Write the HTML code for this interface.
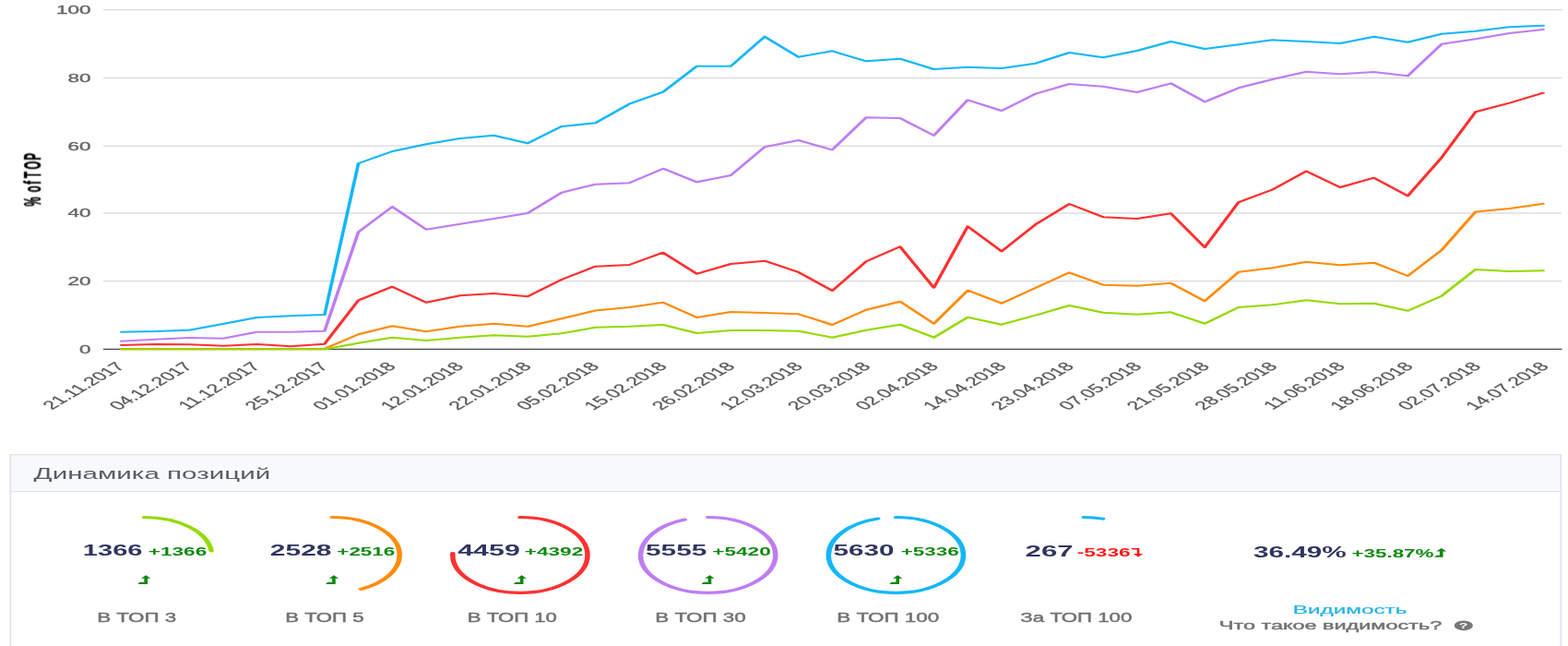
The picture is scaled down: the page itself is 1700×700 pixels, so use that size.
<!DOCTYPE html>
<html lang="ru">
<head>
<meta charset="utf-8">
<title>Динамика позиций</title>
<style>
html,body{margin:0;padding:0;background:#fff;}
body{width:1700px;height:700px;overflow:hidden;font-family:"Liberation Sans",sans-serif;}
svg{display:block;font-family:"Liberation Sans",sans-serif;}
text{white-space:pre;paint-order:stroke;stroke-linejoin:round;}
</style>
</head>
<body>
<svg width="1700" height="700" viewBox="0 0 1700 700">
<defs><filter id="soft" x="0" y="0" width="1700" height="700" filterUnits="userSpaceOnUse" color-interpolation-filters="sRGB"><feGaussianBlur stdDeviation="0.75 0.42"/></filter></defs>
<rect x="0" y="0" width="1700" height="700" fill="#fff"/>
<g filter="url(#soft)">
<rect x="112.0" y="304.00" width="1581.4" height="1.2" fill="#d6d6d6"/>
<rect x="112.0" y="230.40" width="1581.4" height="1.2" fill="#d6d6d6"/>
<rect x="112.0" y="157.50" width="1581.4" height="1.2" fill="#d6d6d6"/>
<rect x="112.0" y="83.90" width="1581.4" height="1.2" fill="#d6d6d6"/>
<rect x="112.0" y="10.10" width="1581.4" height="1.2" fill="#d6d6d6"/>
<rect x="112.0" y="377.75" width="1581.4" height="1.3" fill="#484848"/>
<g transform="scale(2.125 1.2)" fill="none" stroke-width="1.7" stroke-linejoin="round" stroke-linecap="round">
<polyline points="61.98,299.75 79.25,299.17 96.52,298.08 113.79,292.50 131.06,286.67 148.33,285.25 165.60,284.17 182.87,147.50 200.14,136.67 217.41,130.25 234.68,125.00 251.95,122.25 269.22,129.42 286.49,114.17 303.76,111.08 321.04,93.92 338.31,83.08 355.58,59.75 372.85,59.75 390.12,33.08 407.39,51.42 424.66,46.08 441.93,55.25 459.20,53.08 476.47,62.50 493.74,60.58 511.01,61.67 528.28,57.25 545.55,47.50 562.82,51.92 580.09,45.83 597.36,37.50 614.64,44.17 631.91,40.25 649.18,36.08 666.45,37.50 683.72,39.17 700.99,33.08 718.26,38.08 735.53,30.58 752.80,28.08 770.07,24.42 787.34,23.08" stroke="#13b7f7"/>
<polyline points="61.98,308.08 79.25,306.42 96.52,305.00 113.79,305.58 131.06,299.75 148.33,299.75 165.60,298.92 182.87,209.42 200.14,186.67 217.41,207.25 234.68,202.25 251.95,197.50 269.22,192.50 286.49,173.92 303.76,166.42 321.04,165.25 338.31,152.25 355.58,164.42 372.85,158.33 390.12,132.75 407.39,126.67 424.66,135.25 441.93,106.08 459.20,106.67 476.47,122.25 493.74,90.25 511.01,100.00 528.28,84.75 545.55,75.83 562.82,78.08 580.09,83.33 597.36,75.25 614.64,91.92 631.91,79.42 649.18,71.67 666.45,64.75 683.72,66.92 700.99,65.00 718.26,68.58 735.53,39.75 752.80,35.25 770.07,30.00 787.34,26.67" stroke="#be7df3"/>
<polyline points="61.98,311.67 79.25,310.83 96.52,311.08 113.79,312.25 131.06,310.83 148.33,312.75 165.60,310.58 182.87,271.08 200.14,258.92 217.41,273.08 234.68,266.92 251.95,265.00 269.22,267.75 286.49,252.50 303.76,240.58 321.04,239.17 338.31,228.08 355.58,247.25 372.85,238.33 390.12,235.58 407.39,245.83 424.66,262.50 441.93,236.08 459.20,222.75 476.47,259.75 493.74,204.42 511.01,226.92 528.28,202.75 545.55,184.17 562.82,196.00 580.09,197.50 597.36,192.75 614.64,223.33 631.91,182.67 649.18,171.25 666.45,154.58 683.72,169.17 700.99,160.58 718.26,176.92 735.53,142.25 752.80,101.08 770.07,93.08 787.34,83.92" stroke="#ff3030"/>
<polyline points="61.98,314.92 79.25,314.92 96.52,314.92 113.79,314.92 131.06,314.92 148.33,314.92 165.60,314.92 182.87,301.92 200.14,294.42 217.41,299.42 234.68,294.75 251.95,292.25 269.22,294.75 286.49,287.75 303.76,280.42 321.04,277.50 338.31,273.08 355.58,286.67 372.85,281.67 390.12,282.50 407.39,283.58 424.66,293.33 441.93,279.75 459.20,272.25 476.47,292.25 493.74,262.25 511.01,273.92 528.28,260.00 545.55,246.08 562.82,257.25 580.09,258.08 597.36,255.58 614.64,271.92 631.91,245.58 649.18,241.92 666.45,236.42 683.72,239.42 700.99,237.25 718.26,249.17 735.53,225.83 752.80,191.25 770.07,188.33 787.34,183.92" stroke="#ff8c0a"/>
<polyline points="61.98,315.42 79.25,315.42 96.52,315.42 113.79,315.42 131.06,315.42 148.33,315.42 165.60,315.42 182.87,309.75 200.14,304.75 217.41,307.50 234.68,304.75 251.95,302.75 269.22,303.92 286.49,301.08 303.76,295.67 321.04,294.75 338.31,293.33 355.58,300.83 372.85,298.33 390.12,298.33 407.39,298.92 424.66,304.75 441.93,298.08 459.20,293.08 476.47,304.75 493.74,286.42 511.01,293.08 528.28,284.75 545.55,275.83 562.82,282.25 580.09,283.92 597.36,281.92 614.64,292.25 631.91,277.50 649.18,275.25 666.45,271.08 683.72,274.42 700.99,273.92 718.26,280.58 735.53,267.25 752.80,243.33 770.07,245.00 787.34,244.42" stroke="#95d900"/>
</g>
<text transform="matrix(2.0444 0 0 1.2000 86.12 382.80)" font-size="11" fill="#666" stroke="#666" stroke-width="0.3">0</text>
<text transform="matrix(2.0444 0 0 1.2000 73.58 309.00)" font-size="11" fill="#666" stroke="#666" stroke-width="0.3">20</text>
<text transform="matrix(2.0444 0 0 1.2000 73.58 235.40)" font-size="11" fill="#666" stroke="#666" stroke-width="0.3">40</text>
<text transform="matrix(2.0444 0 0 1.2000 73.58 162.50)" font-size="11" fill="#666" stroke="#666" stroke-width="0.3">60</text>
<text transform="matrix(2.0444 0 0 1.2000 73.58 88.90)" font-size="11" fill="#666" stroke="#666" stroke-width="0.3">80</text>
<text transform="matrix(2.0444 0 0 1.2000 61.10 15.10)" font-size="11" fill="#666" stroke="#666" stroke-width="0.3">100</text>
<text transform="translate(44.4 223.6) scale(2.125 1.2) rotate(-90) scale(0.8 1)" x="0.1 9 15.9 24.7 28 31.8 41.6 52.0" font-size="12" font-weight="bold" fill="#000" stroke="#000" stroke-width="0.25">% of TOP</text>
<text transform="translate(136.20 397.60) scale(2.125 1.2) rotate(-46) scale(1.0 1)" font-size="11" fill="#5a5a5a" stroke="#5a5a5a" stroke-width="0.18" text-anchor="end">21.11.2017</text>
<text transform="translate(209.72 397.60) scale(2.125 1.2) rotate(-46) scale(1.0 1)" font-size="11" fill="#5a5a5a" stroke="#5a5a5a" stroke-width="0.18" text-anchor="end">04.12.2017</text>
<text transform="translate(283.25 397.60) scale(2.125 1.2) rotate(-46) scale(1.0 1)" font-size="11" fill="#5a5a5a" stroke="#5a5a5a" stroke-width="0.18" text-anchor="end">11.12.2017</text>
<text transform="translate(356.77 397.60) scale(2.125 1.2) rotate(-46) scale(1.0 1)" font-size="11" fill="#5a5a5a" stroke="#5a5a5a" stroke-width="0.18" text-anchor="end">25.12.2017</text>
<text transform="translate(430.30 397.60) scale(2.125 1.2) rotate(-46) scale(1.0 1)" font-size="11" fill="#5a5a5a" stroke="#5a5a5a" stroke-width="0.18" text-anchor="end">01.01.2018</text>
<text transform="translate(503.82 397.60) scale(2.125 1.2) rotate(-46) scale(1.0 1)" font-size="11" fill="#5a5a5a" stroke="#5a5a5a" stroke-width="0.18" text-anchor="end">12.01.2018</text>
<text transform="translate(577.35 397.60) scale(2.125 1.2) rotate(-46) scale(1.0 1)" font-size="11" fill="#5a5a5a" stroke="#5a5a5a" stroke-width="0.18" text-anchor="end">22.01.2018</text>
<text transform="translate(650.88 397.60) scale(2.125 1.2) rotate(-46) scale(1.0 1)" font-size="11" fill="#5a5a5a" stroke="#5a5a5a" stroke-width="0.18" text-anchor="end">05.02.2018</text>
<text transform="translate(724.40 397.60) scale(2.125 1.2) rotate(-46) scale(1.0 1)" font-size="11" fill="#5a5a5a" stroke="#5a5a5a" stroke-width="0.18" text-anchor="end">15.02.2018</text>
<text transform="translate(797.92 397.60) scale(2.125 1.2) rotate(-46) scale(1.0 1)" font-size="11" fill="#5a5a5a" stroke="#5a5a5a" stroke-width="0.18" text-anchor="end">26.02.2018</text>
<text transform="translate(871.45 397.60) scale(2.125 1.2) rotate(-46) scale(1.0 1)" font-size="11" fill="#5a5a5a" stroke="#5a5a5a" stroke-width="0.18" text-anchor="end">12.03.2018</text>
<text transform="translate(944.98 397.60) scale(2.125 1.2) rotate(-46) scale(1.0 1)" font-size="11" fill="#5a5a5a" stroke="#5a5a5a" stroke-width="0.18" text-anchor="end">20.03.2018</text>
<text transform="translate(1018.50 397.60) scale(2.125 1.2) rotate(-46) scale(1.0 1)" font-size="11" fill="#5a5a5a" stroke="#5a5a5a" stroke-width="0.18" text-anchor="end">02.04.2018</text>
<text transform="translate(1092.03 397.60) scale(2.125 1.2) rotate(-46) scale(1.0 1)" font-size="11" fill="#5a5a5a" stroke="#5a5a5a" stroke-width="0.18" text-anchor="end">14.04.2018</text>
<text transform="translate(1165.55 397.60) scale(2.125 1.2) rotate(-46) scale(1.0 1)" font-size="11" fill="#5a5a5a" stroke="#5a5a5a" stroke-width="0.18" text-anchor="end">23.04.2018</text>
<text transform="translate(1239.08 397.60) scale(2.125 1.2) rotate(-46) scale(1.0 1)" font-size="11" fill="#5a5a5a" stroke="#5a5a5a" stroke-width="0.18" text-anchor="end">07.05.2018</text>
<text transform="translate(1312.60 397.60) scale(2.125 1.2) rotate(-46) scale(1.0 1)" font-size="11" fill="#5a5a5a" stroke="#5a5a5a" stroke-width="0.18" text-anchor="end">21.05.2018</text>
<text transform="translate(1386.13 397.60) scale(2.125 1.2) rotate(-46) scale(1.0 1)" font-size="11" fill="#5a5a5a" stroke="#5a5a5a" stroke-width="0.18" text-anchor="end">28.05.2018</text>
<text transform="translate(1459.65 397.60) scale(2.125 1.2) rotate(-46) scale(1.0 1)" font-size="11" fill="#5a5a5a" stroke="#5a5a5a" stroke-width="0.18" text-anchor="end">11.06.2018</text>
<text transform="translate(1533.18 397.60) scale(2.125 1.2) rotate(-46) scale(1.0 1)" font-size="11" fill="#5a5a5a" stroke="#5a5a5a" stroke-width="0.18" text-anchor="end">18.06.2018</text>
<text transform="translate(1606.70 397.60) scale(2.125 1.2) rotate(-46) scale(1.0 1)" font-size="11" fill="#5a5a5a" stroke="#5a5a5a" stroke-width="0.18" text-anchor="end">02.07.2018</text>
<text transform="translate(1680.23 397.60) scale(2.125 1.2) rotate(-46) scale(1.0 1)" font-size="11" fill="#5a5a5a" stroke="#5a5a5a" stroke-width="0.18" text-anchor="end">14.07.2018</text>
<rect x="10.5" y="492.2" width="1682.8" height="220" fill="#fff"/>
<rect x="10.5" y="492.2" width="1682.8" height="40.4" fill="#f8f9fb"/>
<rect x="10.5" y="492.0" width="1682.8" height="1.2" fill="#dfe3ec"/>
<rect x="10.5" y="532.0" width="1682.8" height="1.2" fill="#dfe3ec"/>
<rect x="10.5" y="492.0" width="1.7" height="220" fill="#dfe3ec"/>
<rect x="1691.3999999999999" y="492.0" width="1.7" height="220" fill="#dfe3ec"/>
<text transform="matrix(2.0410 0 0 1.2000 36.60 519.00)" font-size="14.5" fill="#565b68">Динамика позиций</text>
<g transform="translate(156.40 601.45) scale(2.125 1.1904)"><circle r="34.4" fill="none" stroke="#95d900" stroke-width="2.6" stroke-linecap="round" stroke-dasharray="50.07 216.14" transform="rotate(-90)"/></g>
<text transform="matrix(2.2029 0 0 1.2000 89.80 601.60)" font-size="13.2" font-weight="bold" fill="#30345e">1366</text>
<text transform="matrix(2.0594 0 0 1.2000 160.70 601.60)" font-size="11" font-weight="bold" fill="#0f870f">+1366</text>
<path d="M158.20 623.20 L163.40 626.80 L160.00 626.80 L160.00 632.90 L149.30 632.90 L151.50 630.70 L156.40 630.70 L156.40 626.80 L153.00 626.80 Z" fill="#0f870f"/>
<text transform="matrix(1.9317 0 0 1.2000 105.20 673.60)" font-size="11.6" fill="#717171" stroke="#717171" stroke-width="0.35">В ТОП 3</text>
<g transform="translate(360.15 601.45) scale(2.125 1.1904)"><circle r="34.4" fill="none" stroke="#ff8c0a" stroke-width="2.6" stroke-linecap="round" stroke-dasharray="92.66 216.14" transform="rotate(-90)"/></g>
<text transform="matrix(2.2710 0 0 1.2000 292.80 601.60)" font-size="13.2" font-weight="bold" fill="#30345e">2528</text>
<text transform="matrix(2.0400 0 0 1.2000 365.30 601.60)" font-size="11" font-weight="bold" fill="#0f870f">+2516</text>
<path d="M361.95 623.20 L367.15 626.80 L363.75 626.80 L363.75 632.90 L353.05 632.90 L355.25 630.70 L360.15 630.70 L360.15 626.80 L356.75 626.80 Z" fill="#0f870f"/>
<text transform="matrix(1.9182 0 0 1.2000 309.20 673.60)" font-size="11.6" fill="#717171" stroke="#717171" stroke-width="0.35">В ТОП 5</text>
<g transform="translate(563.90 601.45) scale(2.125 1.1904)"><circle r="34.4" fill="none" stroke="#ff3030" stroke-width="2.6" stroke-linecap="round" stroke-dasharray="163.43 216.14" transform="rotate(-90)"/></g>
<text transform="matrix(2.3051 0 0 1.2000 496.20 601.60)" font-size="13.2" font-weight="bold" fill="#30345e">4459</text>
<text transform="matrix(2.0594 0 0 1.2000 568.70 601.60)" font-size="11" font-weight="bold" fill="#0f870f">+4392</text>
<path d="M565.70 623.20 L570.90 626.80 L567.50 626.80 L567.50 632.90 L556.80 632.90 L559.00 630.70 L563.90 630.70 L563.90 626.80 L560.50 626.80 Z" fill="#0f870f"/>
<text transform="matrix(1.9035 0 0 1.2000 506.80 673.60)" font-size="11.6" fill="#717171" stroke="#717171" stroke-width="0.35">В ТОП 10</text>
<g transform="translate(767.65 601.45) scale(2.125 1.1904)"><circle r="34.4" fill="none" stroke="#be7df3" stroke-width="2.6" stroke-linecap="round" stroke-dasharray="203.61 216.14" transform="rotate(-90)"/></g>
<text transform="matrix(2.2574 0 0 1.2000 700.00 601.60)" font-size="13.2" font-weight="bold" fill="#30345e">5555</text>
<text transform="matrix(2.0594 0 0 1.2000 772.20 601.60)" font-size="11" font-weight="bold" fill="#0f870f">+5420</text>
<path d="M769.45 623.20 L774.65 626.80 L771.25 626.80 L771.25 632.90 L760.55 632.90 L762.75 630.70 L767.65 630.70 L767.65 626.80 L764.25 626.80 Z" fill="#0f870f"/>
<text transform="matrix(1.9329 0 0 1.2000 710.20 673.60)" font-size="11.6" fill="#717171" stroke="#717171" stroke-width="0.35">В ТОП 30</text>
<g transform="translate(971.40 601.45) scale(2.125 1.1904)"><circle r="34.4" fill="none" stroke="#13b7f7" stroke-width="2.6" stroke-linecap="round" stroke-dasharray="206.36 216.14" transform="rotate(-90)"/></g>
<text transform="matrix(2.2438 0 0 1.2000 903.60 601.60)" font-size="13.2" font-weight="bold" fill="#30345e">5630</text>
<text transform="matrix(2.0400 0 0 1.2000 976.70 601.60)" font-size="11" font-weight="bold" fill="#0f870f">+5336</text>
<path d="M973.20 623.20 L978.40 626.80 L975.00 626.80 L975.00 632.90 L964.30 632.90 L966.50 630.70 L971.40 630.70 L971.40 626.80 L968.00 626.80 Z" fill="#0f870f"/>
<text transform="matrix(1.9329 0 0 1.2000 907.20 673.60)" font-size="11.6" fill="#717171" stroke="#717171" stroke-width="0.35">В ТОП 100</text>
<g transform="translate(1175.15 601.45) scale(2.125 1.1904)"><circle r="34.4" fill="none" stroke="#13b7f7" stroke-width="2.6" stroke-linecap="round" stroke-dasharray="9.79 216.14" transform="rotate(-90)"/></g>
<text transform="matrix(2.3579 0 0 1.2000 1111.60 602.80)" font-size="13.2" font-weight="bold" fill="#30345e">267</text>
<text transform="matrix(2.0617 0 0 1.2000 1167.70 602.80)" font-size="11" font-weight="bold" fill="#ff1414">-5336</text>
<path d="M1234.00 603.60 L1239.30 600.10 L1235.30 600.10 L1235.30 593.90 L1225.90 593.90 L1228.10 595.40 L1232.70 595.40 L1232.70 600.10 L1228.70 600.10 Z" fill="#ff1414"/>
<text transform="matrix(1.9164 0 0 1.2000 1106.20 673.60)" font-size="11.6" fill="#717171" stroke="#717171" stroke-width="0.35">За ТОП 100</text>
<text transform="matrix(2.2532 0 0 1.2000 1358.90 603.90)" font-size="13.2" font-weight="bold" fill="#30345e">36.49%</text>
<text transform="matrix(2.0400 0 0 1.2000 1465.40 603.90)" font-size="11" font-weight="bold" fill="#0f870f">+35.87%</text>
<path d="M1562.70 594.10 L1568.30 597.50 L1564.50 597.50 L1564.50 603.70 L1555.10 603.70 L1557.30 601.70 L1560.90 601.70 L1560.90 597.50 L1557.10 597.50 Z" fill="#0f870f"/>
<text transform="matrix(2.2075 0 0 1.2000 1401.80 665.00)" font-size="11" fill="#29b3e6" stroke="#29b3e6" stroke-width="0.2">Видимость</text>
<text transform="matrix(2.1324 0 0 1.2000 1321.80 682.00)" font-size="11" fill="#717171" stroke="#717171" stroke-width="0.35">Что такое видимость?</text>
<ellipse cx="1586.8" cy="677.8" rx="10.1" ry="5.4" fill="#777"/>
<text transform="matrix(2.0 0 0 1.15 1586.7 681.0)" font-size="8" font-weight="bold" fill="#fff" text-anchor="middle">?</text>
</g>
</svg>
</body>
</html>
